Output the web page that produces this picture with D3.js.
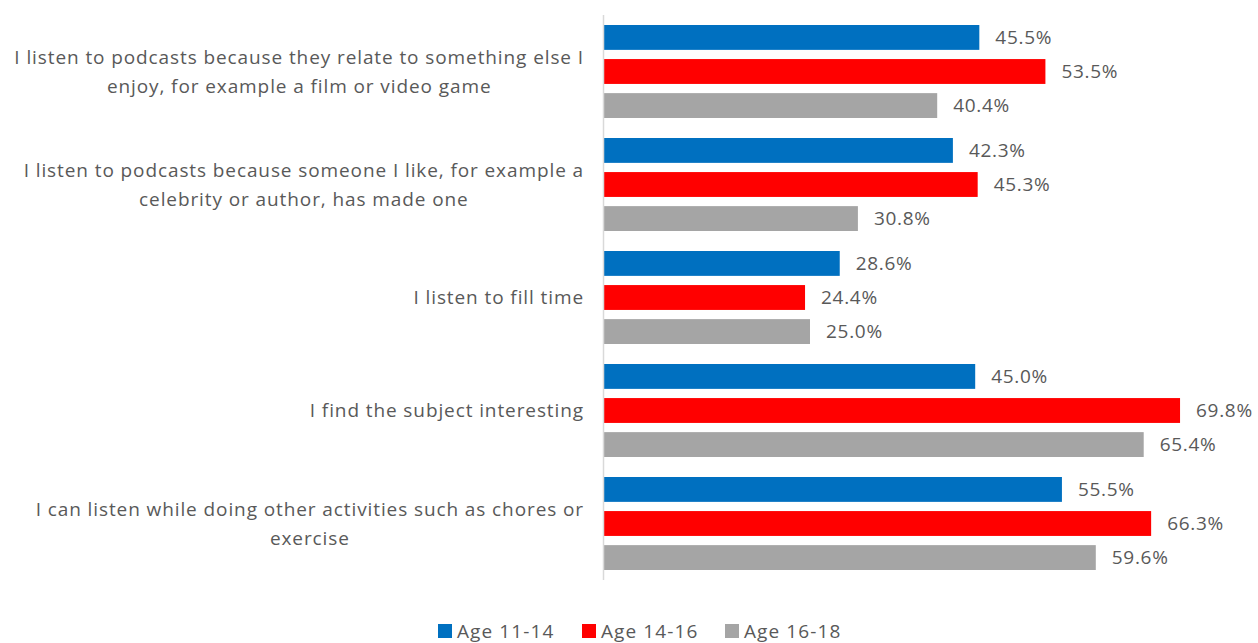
<!DOCTYPE html>
<html>
<head>
<meta charset="utf-8">
<script src="https://cdn.jsdelivr.net/npm/d3@7"></script>
<style>
  html, body { margin: 0; padding: 0; background: #fff; }
  svg { display: block; }
  text { font-family: "Open Sans", Lato, sans-serif; fill: #595959; }
</style>
</head>
<body>
<svg id="chart" width="1258" height="643"></svg>
<script>
// Reasons for listening to podcasts, by age group (percent of respondents)
const categories = [
  ["I listen to podcasts because they relate to something else I", "enjoy, for example a film or video game"],
  ["I listen to podcasts because someone I like, for example a", "celebrity or author, has made one"],
  ["I listen to fill time"],
  ["I find the subject interesting"],
  ["I can listen while doing other activities such as chores or", "exercise"]
];
const seriesNames = ["Age 11-14", "Age 14-16", "Age 16-18"];
const age11to14 = [45.5, 42.3, 28.6, 45.0, 55.5];
const age14to16 = [53.5, 45.3, 24.4, 69.8, 66.3];
const age16to18 = [40.4, 30.8, 25.0, 65.4, 59.6];
const colors = ["#0070C0", "#FF0000", "#A5A5A5"];

const seriesValues = [age11to14, age14to16, age16to18];

const svg = d3.select("#chart");
const axisX = 603.5;
const plotTop = 15, plotBottom = 580;
const labelRight = 584;

const x = d3.scaleLinear().domain([0, 70]).range([axisX, axisX + 70 * 8.26]);
const y = d3.scaleBand().domain(d3.range(categories.length)).range([plotTop, plotBottom]).paddingInner(0.177).paddingOuter(0.0885);
const ySub = d3.scaleBand().domain(d3.range(seriesNames.length)).range([0, y.bandwidth()]).paddingInner(0.27);

const groups = svg.selectAll("g.cat")
  .data(categories)
  .join("g")
  .attr("class", "cat")
  .attr("transform", (d, i) => `translate(0,${y(i)})`);

groups.each(function (labelLines, i) {
  const g = d3.select(this);
  seriesValues.forEach((vals, s) => {
    g.append("rect")
      .attr("x", x(0))
      .attr("y", ySub(s))
      .attr("width", x(vals[i]) - x(0))
      .attr("height", ySub.bandwidth())
      .attr("fill", colors[s]);
    g.append("text")
      .attr("x", x(vals[i]) + 16)
      .attr("y", ySub(s) + ySub.bandwidth() / 2)
      .attr("dy", "0.35em")
      .attr("font-size", 19)
      .attr("letter-spacing", 0.7)
      .text(vals[i].toFixed(1) + "%");
  });

  // category label: lines centred on each other, block right-aligned against the axis
  const mid = y.bandwidth() / 2;
  const lineH = 29;
  const n = labelLines.length;
  const lines = labelLines.map((line, k) =>
    g.append("text")
      .attr("y", mid + (k - (n - 1) / 2) * lineH)
      .attr("dy", "0.35em")
      .attr("text-anchor", "middle")
      .attr("font-size", 19)
      .attr("letter-spacing", 0.9)
      .text(line)
  );
  const blockW = d3.max(lines, t => t.node().getComputedTextLength());
  lines.forEach(t => t.attr("x", labelRight - blockW / 2));
});

// vertical category axis line
svg.append("line")
  .attr("x1", axisX).attr("x2", axisX)
  .attr("y1", plotTop).attr("y2", plotBottom)
  .attr("stroke", "#D9D9D9")
  .attr("stroke-width", 1.5);

// legend
const legendX = [438, 582, 725];
const legend = svg.selectAll("g.legend")
  .data(seriesNames)
  .join("g")
  .attr("class", "legend")
  .attr("transform", (d, i) => `translate(${legendX[i]},624)`);
legend.append("rect")
  .attr("width", 14).attr("height", 14)
  .attr("fill", (d, i) => colors[i]);
legend.append("text")
  .attr("x", 19)
  .attr("y", 14)
  .attr("font-size", 19)
  .attr("letter-spacing", 1.1)
  .text(d => d);
</script>
</body>
</html>
